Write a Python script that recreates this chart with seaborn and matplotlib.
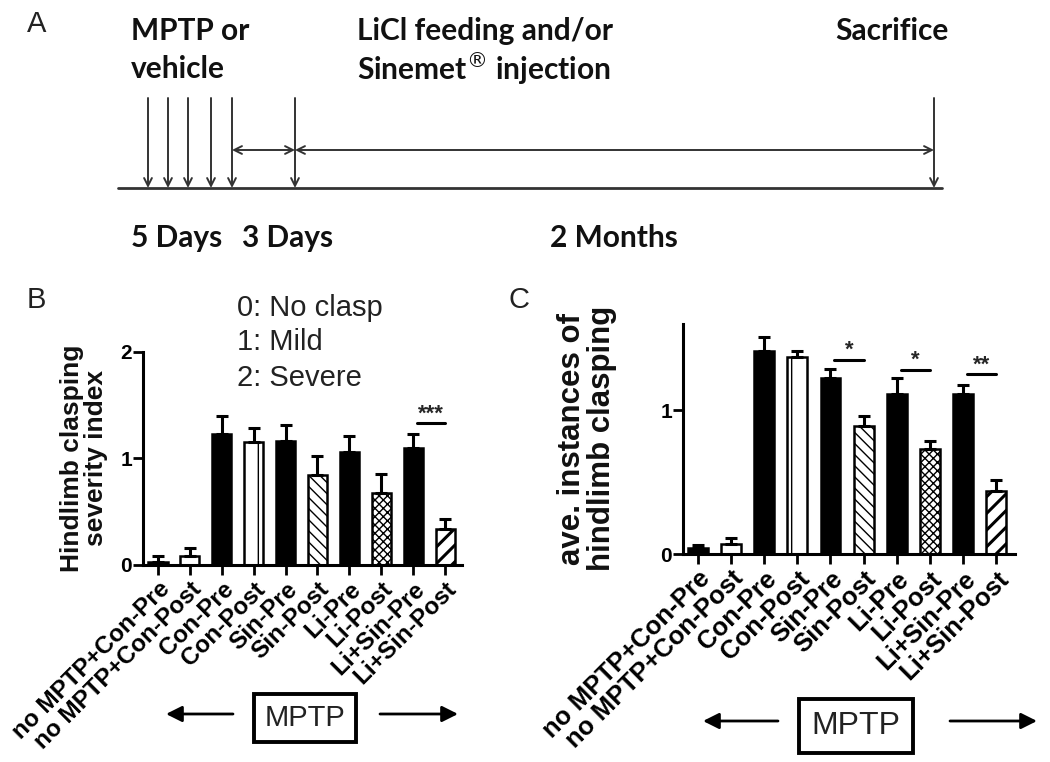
import numpy as np
import pandas as pd
import seaborn as sns
import matplotlib.pyplot as plt

# Tamaño de la figura en píxeles
W, H = 1050, 762

# Grupos del eje x (comunes a los paneles B y C)
grupos = ["no MPTP+Con-Pre", "no MPTP+Con-Post", "Con-Pre", "Con-Post", "Sin-Pre",
          "Sin-Post", "Li-Pre", "Li-Post", "Li+Sin-Pre", "Li+Sin-Post"]

# Panel B: índice de severidad
indice_b = [0.03, 0.08, 1.23, 1.15, 1.16, 0.84, 1.06, 0.67, 1.10, 0.34]
error_b = [0.05, 0.08, 0.17, 0.13, 0.15, 0.18, 0.15, 0.18, 0.13, 0.09]

# Panel C: instancias promedio
instancias_c = [0.04, 0.07, 1.41, 1.37, 1.22, 0.89, 1.11, 0.73, 1.11, 0.44]
error_c = [0.02, 0.04, 0.10, 0.04, 0.065, 0.065, 0.115, 0.055, 0.065, 0.075]

# Comparaciones significativas (índice del primer grupo, altura, estrellas)
signif_b = [(8, 1.33, "***")]
signif_c = [(4, 1.35, "*"), (6, 1.28, "*"), (8, 1.25, "**")]

# Escala de severidad del panel B
escala_b = ["0: No clasp", "1: Mild", "2: Severe"]

# Línea de tiempo del panel A (posiciones del esquema)
inyecciones_x = [148, 168, 188, 211, 232]
inicio_trat_x = 295
sacrificio_x = 934

# Estilo de barras
relleno = ["black", "white", "black", "white", "black", "white", "black", "white", "black", "white"]
tramas = ["", "", "", "|", "", "\\\\\\", "", "xxxx", "", "//"]
grosor_trama = [1, 1, 1, 1, 1, 1, 1, 1, 1, 2.2]

sns.set_theme(style="ticks")
plt.rcParams['font.family'] = ['Liberation Sans', 'DejaVu Sans']
plt.rcParams['hatch.color'] = 'black'

fig = plt.figure(figsize=(W / 100, H / 100), dpi=100)


def caja(x0, y0, x1, y1):
    # convierte un rectángulo en píxeles (origen arriba) a fracciones de figura
    return [x0 / W, 1 - y1 / H, (x1 - x0) / W, (y1 - y0) / H]


# Capa de fondo para anotaciones en píxeles
ax_bg = fig.add_axes([0, 0, 1, 1])
ax_bg.set_xlim(0, W)
ax_bg.set_ylim(H, 0)
ax_bg.axis('off')

# ---------- Panel A ----------
fuente_a = dict(family=['Lato', 'DejaVu Sans'], fontweight='bold', fontsize=21.5, color='#111111')
ax_bg.text(27, 24, "A", fontsize=21, ha='left', va='center', color='#222222')
ax_bg.text(131, 31, "MPTP or", ha='left', va='center', **fuente_a)
ax_bg.text(131, 69, "vehicle", ha='left', va='center', **fuente_a)
ax_bg.text(357, 31, "LiCl feeding and/or", ha='left', va='center', **fuente_a)
ax_bg.text(357, 69, "Sinemet$^{®}$ injection", ha='left', va='center', **fuente_a)
ax_bg.text(835, 31, "Sacrifice", ha='left', va='center', **fuente_a)
ax_bg.text(131, 238, "5 Days", ha='left', va='center', **fuente_a)
ax_bg.text(242, 238, "3 Days", ha='left', va='center', **fuente_a)
ax_bg.text(550, 238, "2 Months", ha='left', va='center', **fuente_a)

ax_bg.plot([118, 942], [188, 188], color='#333333', lw=2)
flecha = dict(arrowstyle='->', lw=1.4, color='#333333', mutation_scale=14, shrinkA=0, shrinkB=0)
for x in inyecciones_x + [inicio_trat_x, sacrificio_x]:
    ax_bg.annotate('', xy=(x, 188), xytext=(x, 98), arrowprops=flecha)
doble = dict(arrowstyle='<->', lw=1.4, color='#333333', mutation_scale=14, shrinkA=0, shrinkB=0)
ax_bg.annotate('', xy=(inicio_trat_x, 150), xytext=(inyecciones_x[-1], 150), arrowprops=doble)
ax_bg.annotate('', xy=(sacrificio_x, 150), xytext=(inicio_trat_x, 150), arrowprops=doble)

# Letras de paneles
ax_bg.text(27, 300, "B", fontsize=21, ha='left', va='center', color='#222222')
ax_bg.text(508, 300, "C", fontsize=21, ha='left', va='center', color='#222222')


def panel_barras(ax, valores, errores, signif, ylim, yticks, ylabel, tam_tick, tam_label, label_x):
    df = pd.DataFrame({"grupo": grupos, "valor": valores})
    paleta = dict(zip(grupos, relleno))
    sns.barplot(data=df, x="grupo", y="valor", hue="grupo", palette=paleta, legend=False,
                width=0.6, edgecolor="black", linewidth=1.8, errorbar=None, saturation=1, ax=ax)
    for i, cont in enumerate(ax.containers):
        for barra in cont:
            barra.set_hatch(tramas[i])
            barra.set_edgecolor('black')
            if hasattr(barra, 'set_hatch_linewidth'):
                barra.set_hatch_linewidth(grosor_trama[i])
            barra.set_zorder(2)
    ax.errorbar(np.arange(len(grupos)), valores, yerr=[np.zeros(len(errores)), errores],
                fmt='none', ecolor='black', elinewidth=2.2, capsize=4.5, capthick=2.2, zorder=3)
    for i, y, estrellas in signif:
        ax.plot([i + 0.12, i + 1.0], [y, y], color='black', lw=2.2, clip_on=False)
        ax.text(i + 0.56, y + 0.04 * ylim[1], estrellas, ha='center', va='center',
                fontsize=16, fontweight='bold', clip_on=False)
    ax.set_ylim(*ylim)
    ax.set_yticks(yticks)
    ax.set_xticks(range(len(grupos)))
    ax.set_xticklabels(grupos, rotation=45, ha='right', rotation_mode='anchor',
                       fontweight='bold', fontsize=tam_tick)
    for t in ax.get_yticklabels():
        t.set_fontweight('bold')
    ax.tick_params(axis='both', direction='out', length=7, width=2, color='black',
                   labelcolor='black', pad=2)
    ax.tick_params(axis='y', labelsize=15, pad=1)
    ax.set_xlabel('')
    ax.set_ylabel(ylabel, fontsize=tam_label, fontweight='bold', linespacing=1.0, color='#111111')
    ax.yaxis.set_label_coords(label_x, 0.5)
    sns.despine(ax=ax)
    for s in ['left', 'bottom']:
        ax.spines[s].set_linewidth(2.2)
        ax.spines[s].set_color('black')
    ax.set_facecolor('none')


# ---------- Panel B ----------
ax_b = fig.add_axes(caja(143, 351.5, 462, 565))
panel_barras(ax_b, indice_b, error_b, signif_b, (0, 2), [0, 1, 2],
             "Hindlimb clasping\nseverity index", 17.5, 19, -0.11)
ax_b.set_xlim(-0.47, 9.53)
for texto, yf in zip(escala_b, [1.205, 1.045, 0.875]):
    ax_b.text(0.295, yf, texto, transform=ax_b.transAxes, fontsize=21, va='center',
              color='#222222', clip_on=False)

# ---------- Panel C ----------
ax_c = fig.add_axes(caja(683, 323.6, 1015, 554))
panel_barras(ax_c, instancias_c, error_c, signif_c, (0, 1.6), [0, 1],
             "ave. instances of\nhindlimb clasping", 18.5, 22.5, -0.2)
ax_c.set_xlim(-0.45, 9.57)

# ---------- Recuadros MPTP ----------
flecha_llena = dict(arrowstyle='-|>', lw=2, color='black', mutation_scale=24, shrinkA=0, shrinkB=0)
ax_bg.text(305, 718, "MPTP", fontsize=21, ha='center', va='center', color='#222222',
           bbox=dict(boxstyle='square,pad=0.35', fc='white', ec='black', lw=2.8))
ax_bg.annotate('', xy=(166, 714), xytext=(233, 714), arrowprops=flecha_llena)
ax_bg.annotate('', xy=(458, 714), xytext=(380, 714), arrowprops=flecha_llena)
ax_bg.text(856, 726, "MPTP", fontsize=23, ha='center', va='center', color='#222222',
           bbox=dict(boxstyle='square,pad=0.38', fc='white', ec='black', lw=2.8))
ax_bg.annotate('', xy=(703, 721), xytext=(778, 721), arrowprops=flecha_llena)
ax_bg.annotate('', xy=(1037, 721), xytext=(950, 721), arrowprops=flecha_llena)

fig.savefig("out.png", dpi=100)
